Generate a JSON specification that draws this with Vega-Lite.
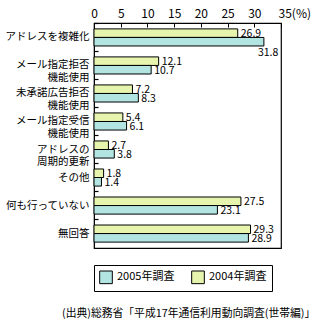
{
  "$schema": "https://vega.github.io/schema/vega-lite/v6.json",
  "autosize": "none",
  "padding": {"left": 94, "top": 23, "right": 43, "bottom": 77},
  "width": 187,
  "height": 225,
  "background": "white",
  "config": {
    "font": "Noto Sans CJK JP",
    "view": {"stroke": "black", "strokeWidth": 1.2},
    "axis": {"labelColor": "black", "labelFont": "Noto Sans CJK JP", "domainColor": "black", "tickColor": "black"}
  },
  "data": {
    "values": [
      {"cat": "アドレスを複雑化", "series": "2004年調査", "value": 26.9},
      {"cat": "アドレスを複雑化", "series": "2005年調査", "value": 31.8},
      {"cat": "メール指定拒否|機能使用", "series": "2004年調査", "value": 12.1},
      {"cat": "メール指定拒否|機能使用", "series": "2005年調査", "value": 10.7},
      {"cat": "未承諾広告拒否|機能使用", "series": "2004年調査", "value": 7.2},
      {"cat": "未承諾広告拒否|機能使用", "series": "2005年調査", "value": 8.3},
      {"cat": "メール指定受信|機能使用", "series": "2004年調査", "value": 5.4},
      {"cat": "メール指定受信|機能使用", "series": "2005年調査", "value": 6.1},
      {"cat": "アドレスの|周期的更新", "series": "2004年調査", "value": 2.7},
      {"cat": "アドレスの|周期的更新", "series": "2005年調査", "value": 3.8},
      {"cat": "その他", "series": "2004年調査", "value": 1.8},
      {"cat": "その他", "series": "2005年調査", "value": 1.4},
      {"cat": "何も行っていない", "series": "2004年調査", "value": 27.5},
      {"cat": "何も行っていない", "series": "2005年調査", "value": 23.1},
      {"cat": "無回答", "series": "2004年調査", "value": 29.3},
      {"cat": "無回答", "series": "2005年調査", "value": 28.9}
    ]
  },
  "title": {
    "text": "(出典)総務省「平成17年通信利用動向調査(世帯編)」",
    "orient": "bottom",
    "anchor": "start",
    "frame": "group",
    "fontSize": 10.8,
    "fontWeight": "normal",
    "color": "black",
    "offset": 16,
    "dx": -32
  },
  "encoding": {
    "y": {
      "field": "cat",
      "type": "nominal",
      "sort": null,
      "scale": {"paddingInner": 0.39, "paddingOuter": 0.21},
      "axis": {
        "title": null,
        "domain": true,
        "labelExpr": "split(datum.label, '|')",
        "labelFontSize": 10.5,
        "labelLineHeight": 12.5,
        "labelAlign": "right",
        "labelBaseline": "middle",
        "bandPosition": -0.32,
        "tickSize": -4,
        "tickWidth": 1.2,
        "labelPadding": 9
      }
    },
    "yOffset": {"field": "series", "type": "nominal", "sort": ["2004年調査", "2005年調査"]},
    "x": {
      "field": "value",
      "type": "quantitative",
      "scale": {"domain": [0, 35], "nice": false},
      "axis": {
        "orient": "top",
        "title": null,
        "values": [0, 5, 10, 15, 20, 25, 30, 35],
        "grid": false,
        "tickSize": -4,
        "labelPadding": 7,
        "labelFontSize": 12,
        "labelExpr": "datum.value == 35 ? '35(%)' : datum.label",
        "labelAlign": {"condition": {"test": "datum.value == 35", "value": "left"}, "value": "center"},
        "labelOffset": {"condition": {"test": "datum.value == 35", "value": -3}, "value": 0}
      }
    }
  },
  "layer": [
    {
      "mark": {"type": "bar", "stroke": "black", "strokeWidth": 1},
      "encoding": {
        "color": {
          "field": "series",
          "type": "nominal",
          "scale": {"domain": ["2005年調査", "2004年調査"], "range": ["#b2e4e2", "#e6f4ae"]},
          "legend": {
            "title": null,
            "orient": "bottom",
            "direction": "horizontal",
            "offset": 17,
            "strokeColor": "black",
            "padding": 5,
            "symbolType": "square",
            "symbolSize": 160,
            "symbolStrokeColor": "black",
            "symbolStrokeWidth": 1,
            "labelFontSize": 11,
            "labelColor": "black",
            "columnPadding": 14
          }
        }
      }
    },
    {
      "transform": [{"filter": "datum.value < 30"}],
      "mark": {"type": "text", "align": "left", "baseline": "middle", "dx": 3, "dy": 1, "fontSize": 10.5, "color": "black"},
      "encoding": {"text": {"field": "value", "type": "quantitative", "format": ".1f"}}
    },
    {
      "transform": [{"filter": "datum.value >= 30"}],
      "mark": {"type": "text", "align": "left", "baseline": "middle", "dx": -6, "dy": 11, "fontSize": 10.5, "color": "black"},
      "encoding": {"text": {"field": "value", "type": "quantitative", "format": ".1f"}}
    }
  ]
}
